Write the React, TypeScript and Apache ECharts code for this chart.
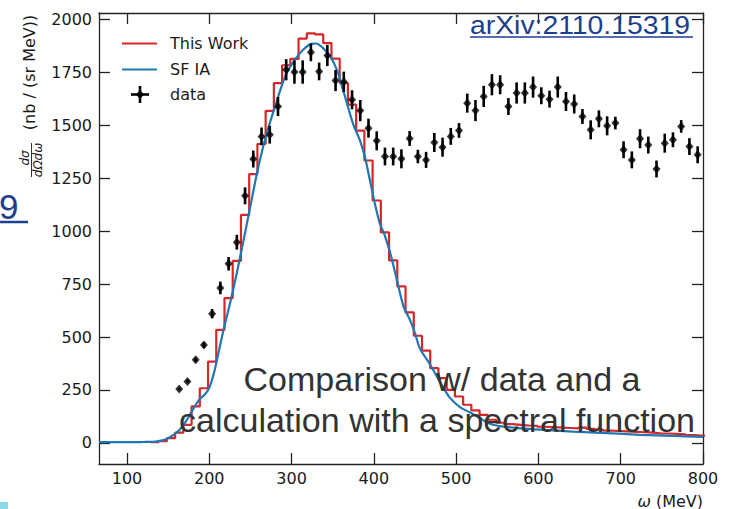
import React, { useEffect, useRef } from "react";
import * as echarts from "echarts";

// ---- data ----
const dataOmega = [
  163.5, 173.5, 183.5, 193.5, 203.5, 213.5, 223.5, 233.5, 243.5, 253.5,
  263.5, 273.5, 283.5, 293.5, 303.5, 313.5, 323.5, 333.5, 343.5, 353.5,
  363.5, 373.5, 383.5, 393.5, 403.5, 413.5, 423.5, 433.5, 443.5, 453.5,
  463.5, 473.5, 483.5, 493.5, 503.5, 513.5, 523.5, 533.5, 543.5, 553.5,
  563.5, 573.5, 583.5, 593.5, 603.5, 613.5, 623.5, 633.5, 643.5, 653.5,
  663.5, 673.5, 683.5, 693.5, 703.5, 713.5, 723.5, 733.5, 743.5, 753.5,
  763.5, 773.5, 783.5, 793.5,
];
const dataValues = [
  254, 290, 392, 462, 610, 732, 846, 948, 1167, 1341,
  1448, 1456, 1589, 1763, 1752, 1752, 1845, 1755, 1830, 1712,
  1706, 1621, 1570, 1487, 1427, 1353, 1353, 1342, 1438, 1353,
  1337, 1419, 1397, 1448, 1476, 1605, 1570, 1637, 1692, 1692,
  1589, 1653, 1653, 1681, 1640, 1624, 1681, 1613, 1601, 1542,
  1479, 1531, 1498, 1511, 1385, 1337, 1437, 1407, 1294, 1416,
  1432, 1495, 1400, 1361,
];
const dataErrors = [
  6, 8, 9, 12, 22, 30, 32, 35, 40, 40,
  42, 42, 45, 50, 55, 55, 42, 42, 50, 50,
  48, 45, 50, 45, 45, 42, 42, 45, 35, 32,
  38, 45, 45, 40, 35, 45, 50, 50, 50, 45,
  40, 50, 50, 50, 40, 40, 50, 45, 45, 35,
  45, 40, 45, 30, 40, 40, 45, 40, 40, 45,
  35, 30, 40, 40,
];

// "This Work" histogram: bin centres (10 MeV wide bins) and heights
const thisWorkCenters = [
  133.5, 143.5, 153.5, 163.5, 173.5, 183.5, 193.5, 203.5, 213.5, 223.5,
  233.5, 243.5, 253.5, 263.5, 273.5, 283.5, 293.5, 303.5, 313.5, 323.5,
  333.5, 343.5, 353.5, 363.5, 373.5, 383.5, 393.5, 403.5, 413.5, 423.5,
  433.5, 443.5, 453.5, 463.5, 473.5, 483.5, 493.5, 503.5, 513.5, 523.5,
  533.5, 543.5, 553.5, 563.5, 573.5, 583.5, 593.5, 603.5, 613.5, 623.5,
  633.5, 643.5, 653.5, 663.5, 673.5, 683.5, 693.5, 703.5, 713.5, 723.5,
  733.5, 743.5, 753.5, 763.5, 773.5, 783.5, 793.5, 803.5,
];
const thisWorkValues = [
  3, 8, 22, 48, 85, 172, 258, 384, 534, 684,
  860, 1077, 1270, 1412, 1569, 1700, 1784, 1814, 1910, 1935,
  1930, 1889, 1815, 1700, 1598, 1475, 1334, 1145, 994, 862,
  739, 616, 506, 436, 353, 306, 250, 219, 180, 153,
  132, 109, 95, 88, 85, 82, 80, 76, 74, 72,
  70, 68, 72, 66, 62, 58, 56, 54, 52, 50,
  48, 45, 44, 42, 40, 36, 34, 33,
];

// "SF IA" curve
const sfOmega = [
  66, 100, 120, 132, 140, 148, 156, 164, 170, 176,
  182, 188, 194, 200, 206, 212, 218, 224, 230, 240,
  250, 260, 270, 280, 287, 294, 304, 314, 324, 330,
  338, 347, 355, 361, 367, 375, 383, 389, 395, 401,
  407, 413, 420, 428, 436, 444, 450, 456, 466, 472,
  480, 492, 505, 517, 529, 541, 555, 580, 602, 642,
  683, 723, 764, 800,
];
const sfValues = [
  3, 3, 4, 5, 9, 18, 36, 62, 92, 130,
  170, 205, 226, 260, 335, 440, 545, 640, 740, 925,
  1120, 1310, 1465, 1590, 1675, 1747, 1810, 1857, 1885, 1887,
  1866, 1826, 1763, 1688, 1608, 1505, 1430, 1353, 1245, 1135,
  1040, 983, 896, 770, 645, 580, 518, 445, 385, 345,
  290, 215, 168, 143, 117, 90, 78, 68, 62, 53,
  46, 38, 33, 28,
];

const xTickValues = [100, 200, 300, 400, 500, 600, 700, 800];
const yTickValues = [0, 250, 500, 750, 1000, 1250, 1500, 1750, 2000];

const RED = "#d62728";
const BLUE = "#1f77b4";
const AXIS = "#222";
const LINK = "#1b3f8f";
const FONT = "DejaVu Sans";

export default function App() {
  const ref = useRef<HTMLDivElement>(null);

  useEffect(() => {
    const chart = echarts.init(ref.current as HTMLDivElement, null, {
      renderer: "svg",
    });

    const histData: number[][] = thisWorkCenters.map((c, i) => [
      c - 5,
      thisWorkValues[i],
    ]);
    const lastC = thisWorkCenters[thisWorkCenters.length - 1];
    histData.push([lastC + 5, thisWorkValues[thisWorkValues.length - 1]]);

    const sfData = sfOmega.map((w, i) => [w, sfValues[i]]);
    const ptsData = dataOmega.map((w, i) => [w, dataValues[i], dataErrors[i]]);

    const axisLine = { show: true, onZero: false, lineStyle: { color: AXIS, width: 1.3 } };
    const tickStyle = { color: AXIS, width: 1.3 };
    const labelStyle = {
      fontSize: 16,
      fontFamily: FONT,
      color: "#1a1a1a",
      formatter: (v: number) => String(v),
    };

    const option: any = {
      animation: false,
      backgroundColor: "#fff",
      grid: {
        left: 99,
        top: 13,
        width: 604,
        height: 451,
        containLabel: false,
        outerBoundsMode: "none",
      },
      xAxis: [
        {
          type: "value",
          min: 66,
          max: 800,
          position: "bottom",
          axisLine,
          axisTick: { show: true, inside: true, length: 11, customValues: xTickValues, lineStyle: tickStyle },
          axisLabel: { ...labelStyle, customValues: xTickValues, margin: 6 },
          splitLine: { show: false },
        },
        {
          type: "value",
          min: 66,
          max: 800,
          position: "top",
          axisLine,
          axisTick: { show: true, inside: true, length: 11, customValues: xTickValues, lineStyle: tickStyle },
          axisLabel: { show: false },
          splitLine: { show: false },
        },
      ],
      yAxis: [
        {
          type: "value",
          min: -100,
          max: 2031,
          position: "left",
          axisLine,
          axisTick: { show: true, inside: true, length: 11, customValues: yTickValues, lineStyle: tickStyle },
          axisLabel: { ...labelStyle, customValues: yTickValues, margin: 7 },
          splitLine: { show: false },
        },
        {
          type: "value",
          min: -100,
          max: 2031,
          position: "right",
          axisLine,
          axisTick: { show: true, inside: true, length: 11, customValues: yTickValues, lineStyle: tickStyle },
          axisLabel: { show: false },
          splitLine: { show: false },
        },
      ],
      series: [
        {
          name: "This Work",
          type: "line",
          step: "end",
          data: histData,
          showSymbol: false,
          symbol: "none",
          lineStyle: { color: RED, width: 2.2 },
          z: 2,
        },
        {
          name: "SF IA",
          type: "line",
          data: sfData,
          smooth: 0.3,
          showSymbol: false,
          symbol: "none",
          lineStyle: { color: BLUE, width: 2.2 },
          z: 3,
        },
        {
          name: "data-err",
          type: "custom",
          data: ptsData,
          encode: { x: 0, y: 1 },
          z: 4,
          renderItem: (params: any, api: any) => {
            const x = api.value(0);
            const y = api.value(1);
            const e = api.value(2);
            const p1 = api.coord([x, y - e]);
            const p2 = api.coord([x, y + e]);
            return {
              type: "line",
              shape: { x1: p1[0], y1: p1[1], x2: p2[0], y2: p2[1] },
              style: { stroke: "#000", lineWidth: 2.6 },
            };
          },
        },
        {
          name: "data",
          type: "scatter",
          data: ptsData.map((d) => [d[0], d[1]]),
          symbol: "diamond",
          symbolSize: [8, 9],
          itemStyle: { color: "#000" },
          z: 5,
        },
      ],
      graphic: [
        // legend
        { type: "line", z: 50, shape: { x1: 122, y1: 43.5, x2: 157, y2: 43.5 }, style: { stroke: RED, lineWidth: 2.2 } },
        { type: "text", z: 50, x: 170, y: 43.5, style: { text: "This Work", fontSize: 16, fontFamily: FONT, fill: "#1a1a1a", verticalAlign: "middle" } },
        { type: "line", z: 50, shape: { x1: 122, y1: 69.5, x2: 157, y2: 69.5 }, style: { stroke: BLUE, lineWidth: 2.2 } },
        { type: "text", z: 50, x: 170, y: 69.5, style: { text: "SF IA", fontSize: 16, fontFamily: FONT, fill: "#1a1a1a", verticalAlign: "middle" } },
        { type: "line", z: 50, shape: { x1: 140, y1: 86, x2: 140, y2: 103 }, style: { stroke: "#000", lineWidth: 2.6 } },
        { type: "line", z: 50, shape: { x1: 131, y1: 94.5, x2: 149, y2: 94.5 }, style: { stroke: "#000", lineWidth: 2.6 } },
        { type: "polygon", z: 50, shape: { points: [[140, 90], [144, 94.5], [140, 99], [136, 94.5]] }, style: { fill: "#000" } },
        { type: "text", z: 50, x: 170, y: 94.5, style: { text: "data", fontSize: 16, fontFamily: FONT, fill: "#1a1a1a", verticalAlign: "middle" } },
        // y-axis name
        { type: "text", z: 50, x: 29.5, y: 72.5, rotation: Math.PI / 2, style: { text: "(nb / (sr MeV))", fontSize: 16, fontFamily: FONT, fill: "#1a1a1a", align: "center", verticalAlign: "middle" } },
        { type: "text", z: 50, x: 25, y: 158, rotation: Math.PI / 2, style: { text: "dσ", fontSize: 12, fontStyle: "italic", fontFamily: FONT, fill: "#1a1a1a", align: "center", verticalAlign: "middle" } },
        { type: "line", z: 50, shape: { x1: 31.5, y1: 143, x2: 31.5, y2: 177 }, style: { stroke: "#1a1a1a", lineWidth: 0.9 } },
        { type: "text", z: 50, x: 38, y: 160, rotation: Math.PI / 2, style: { text: "dΩdω", fontSize: 12, fontStyle: "italic", fontFamily: FONT, fill: "#1a1a1a", align: "center", verticalAlign: "middle" } },
        // x-axis name
        {
          type: "text", z: 50, x: 703, y: 501,
          style: {
            text: "{i|ω} (MeV)", fontSize: 16, fontFamily: FONT, fill: "#1a1a1a",
            align: "right", verticalAlign: "middle",
            rich: { i: { fontStyle: "italic", fontSize: 16, fontFamily: FONT, fill: "#1a1a1a" } },
          },
        },
        // reference link
        { type: "text", z: 100, x: 470, y: 24.5, scaleX: 1.09, style: { text: "arXiv:2110.15319", fontSize: 26, fontFamily: "Liberation Sans", fill: LINK, verticalAlign: "middle" } },
        { type: "line", z: 100, shape: { x1: 470, y1: 37, x2: 693, y2: 37 }, style: { stroke: LINK, lineWidth: 1.6 } },
        // cut-off slide text at left
        { type: "text", z: 100, x: -1, y: 206, style: { text: "9", fontSize: 35, fontFamily: "Liberation Sans", fill: LINK, verticalAlign: "middle" } },
        { type: "line", z: 100, shape: { x1: 0, y1: 222, x2: 28, y2: 222 }, style: { stroke: LINK, lineWidth: 2.5 } },
        { type: "rect", z: 100, shape: { x: 0, y: 502, width: 8, height: 7 }, style: { fill: "#8ad8ea" } },
        // overlay annotation
        { type: "text", z: 100, x: 442, y: 379, style: { text: "Comparison w/ data and a", fontSize: 34, fontFamily: "Liberation Sans", fill: "#333", align: "center", verticalAlign: "middle" } },
        { type: "text", z: 100, x: 437, y: 420, style: { text: "calculation with a spectral function", fontSize: 34, fontFamily: "Liberation Sans", fill: "#333", align: "center", verticalAlign: "middle" } },
      ],
    };

    chart.setOption(option);
    return () => chart.dispose();
  }, []);

  return (
    <div
      ref={ref}
      style={{ position: "fixed", left: 0, top: 0, width: 734, height: 509, background: "#fff" }}
    />
  );
}
